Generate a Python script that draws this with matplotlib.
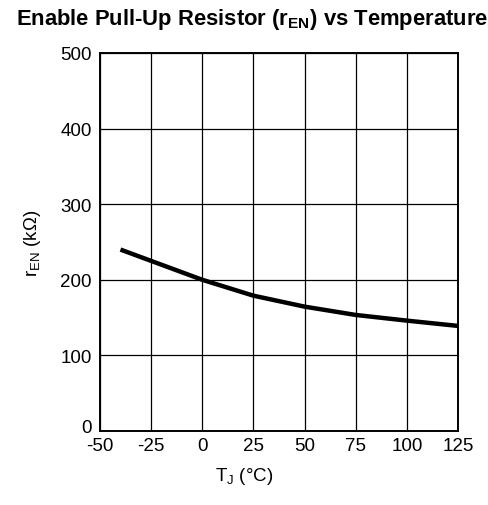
import matplotlib
matplotlib.use('Agg')
import matplotlib.pyplot as plt
from matplotlib.transforms import ScaledTranslation

plt.rcParams['font.family'] = ['Liberation Sans', 'DejaVu Sans']
plt.rcParams['mathtext.fontset'] = 'custom'
plt.rcParams['mathtext.rm'] = 'Liberation Sans'
plt.rcParams['mathtext.bf'] = 'Liberation Sans:bold'
plt.rcParams['axes.unicode_minus'] = False

# data
temp_c = [-40, -25, 0, 25, 50, 75, 100, 125]
r_en_kohm = [240, 225, 200, 179, 164.5, 153.5, 146, 139]
x_ticks = [-50, -25, 0, 25, 50, 75, 100, 125]
y_ticks = [0, 100, 200, 300, 400, 500]

fig = plt.figure(figsize=(4.89, 5.06), dpi=100)
ax = fig.add_axes([100 / 489, 1 - 432 / 506, 358 / 489, 378 / 506])

ax.plot(temp_c, r_en_kohm, color='black', linewidth=3.2, solid_capstyle='butt')

ax.set_xlim(-50, 125)
ax.set_ylim(0, 500)
ax.set_xticks(x_ticks)
ax.set_yticks(y_ticks)
ax.grid(True, color='black', linewidth=0.9)
ax.tick_params(length=0, labelsize=13.5)
ax.tick_params(axis='x', pad=4)
ax.tick_params(axis='y', pad=6)
for s in ax.spines.values():
    s.set_linewidth(1.4)

# lift the "0" on the y axis a little so it clears "-50", like the original
lbl0 = ax.get_yticklabels()[0]
lbl0.set_transform(lbl0.get_transform() + ScaledTranslation(0, 5 / 100, fig.dpi_scale_trans))

fig.text(0.5, 1 - 477 / 506, r'T$_\mathregular{J}$ (°C)', ha='center', va='center', fontsize=13.5)
fig.text(33 / 489, 1 - 243 / 506, r'r$_\mathregular{EN}$ (kΩ)', ha='center', va='center',
         rotation=90, fontsize=13.5)
fig.text(252 / 489, 1 - 20 / 506, r'Enable Pull-Up Resistor (r$_\mathbf{EN}$) vs Temperature',
         ha='center', va='center', fontsize=15.8, fontweight='bold')

plt.savefig('out.png', dpi=100)
